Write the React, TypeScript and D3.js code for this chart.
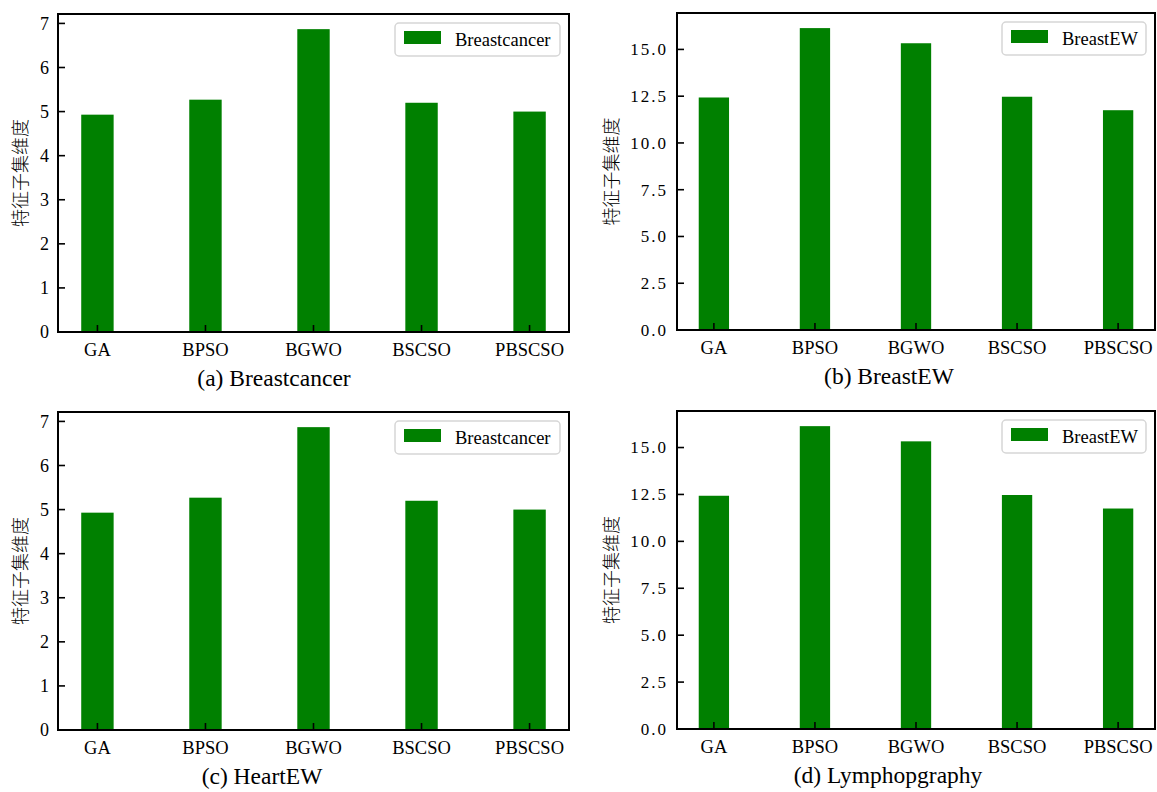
import React from "react";
import * as d3 from "d3";

const categories = ["GA", "BPSO", "BGWO", "BSCSO", "PBSCSO"];
const breastcancerValues = [4.93, 5.27, 6.87, 5.2, 5.0];
const breastEWValues = [12.43, 16.14, 15.33, 12.47, 11.75];
const ticksSmall = [0, 1, 2, 3, 4, 5, 6, 7];
const ticksLarge = [0, 2.5, 5, 7.5, 10, 12.5, 15];
const yLabel = "特征子集维度";

type Panel = {
  left: number; top: number; right: number; bottom: number;
  values: number[]; ticks: number[]; fmt: (v: number) => string;
  legend: string; caption: string; captionX: number; labelX: number; cjkTicks: boolean;
};

const panels: Panel[] = [
  { left: 58, top: 14, right: 569, bottom: 332, values: breastcancerValues, ticks: ticksSmall, fmt: d3.format("d"), legend: "Breastcancer", caption: "(a) Breastcancer", captionX: 274, labelX: 21, cjkTicks: false },
  { left: 677, top: 13, right: 1155, bottom: 330, values: breastEWValues, ticks: ticksLarge, fmt: d3.format(".1f"), legend: "BreastEW", caption: "(b) BreastEW", captionX: 889, labelX: 612, cjkTicks: true },
  { left: 58, top: 412, right: 569, bottom: 730, values: breastcancerValues, ticks: ticksSmall, fmt: d3.format("d"), legend: "Breastcancer", caption: "(c) HeartEW", captionX: 262, labelX: 21, cjkTicks: false },
  { left: 677, top: 411, right: 1155, bottom: 729, values: breastEWValues, ticks: ticksLarge, fmt: d3.format(".1f"), legend: "BreastEW", caption: "(d) Lymphopgraphy", captionX: 888, labelX: 612, cjkTicks: true },
];

const serifStyle = { fontFamily: '"Liberation Serif", "Times New Roman", "DejaVu Serif", serif' };
const cjkStyle = { fontFamily: '"Noto Sans CJK SC", "Noto Sans CJK JP", sans-serif', fontWeight: 300 };

function Chart({ p }: { p: Panel }) {
  const n = categories.length;
  const barW = 0.3;
  const x = d3.scaleLinear().domain([-barW / 2 - 0.215, n - 1 + barW / 2 + 0.215]).range([p.left, p.right]);
  const yMax = (d3.max(p.values) as number) * 1.05;
  const y = d3.scaleLinear().domain([0, yMax]).range([p.bottom, p.top]);
  const unit = x(1) - x(0);
  const tickLen = 7;
  const legW = p.cjkTicks ? 144 : 165;
  const legX = p.right - 9 - legW;
  const legY = p.top + 9;
  return (
    <g>
      {p.values.map((v, i) => (
        <rect key={i} x={x(i) - (barW * unit) / 2} y={y(v)} width={barW * unit} height={p.bottom - y(v)} fill="#008000" />
      ))}
      {p.ticks.map((t) => (
        <g key={t}>
          <line x1={p.left} x2={p.left + tickLen} y1={y(t)} y2={y(t)} stroke="#000" strokeWidth={1.6} />
          <text x={p.left - 9} y={y(t)} dy="0.35em" textAnchor="end" style={{ ...serifStyle, letterSpacing: p.cjkTicks ? "2px" : "0px" }} fontSize={p.cjkTicks ? 17 : 18}>
            {p.fmt(t)}
          </text>
        </g>
      ))}
      {categories.map((c, i) => (
        <g key={c}>
          <line x1={x(i)} x2={x(i)} y1={p.bottom} y2={p.bottom - tickLen} stroke="#000" strokeWidth={1.6} />
          <text x={x(i)} y={p.bottom + 24} textAnchor="middle" style={serifStyle} fontSize={18.5}>{c}</text>
        </g>
      ))}
      <rect x={p.left} y={p.top} width={p.right - p.left} height={p.bottom - p.top} fill="none" stroke="#000" strokeWidth={2} />
      <text transform={`translate(${p.labelX},${(p.top + p.bottom) / 2}) rotate(-90)`} textAnchor="middle" dy="0.35em" style={cjkStyle} fontSize={18}>{yLabel}</text>
      <rect x={legX} y={legY} width={legW} height={33} rx={4} fill="#fff" fillOpacity={0.8} stroke="#d6d6d6" strokeWidth={1.5} />
      <rect x={legX + 9} y={legY + 8} width={37} height={13} fill="#008000" />
      <text x={legX + 60} y={legY + 17} dy="0.35em" style={serifStyle} fontSize={18.5}>{p.legend}</text>
      <text x={p.captionX} y={p.bottom + 54} textAnchor="middle" style={serifStyle} fontSize={23.5}>{p.caption}</text>
    </g>
  );
}

export default function App() {
  return (
    <svg width={1157} height={792} style={{ position: "absolute", left: 0, top: 0, background: "#fff" }}>
      {panels.map((p, i) => <Chart key={i} p={p} />)}
    </svg>
  );
}
